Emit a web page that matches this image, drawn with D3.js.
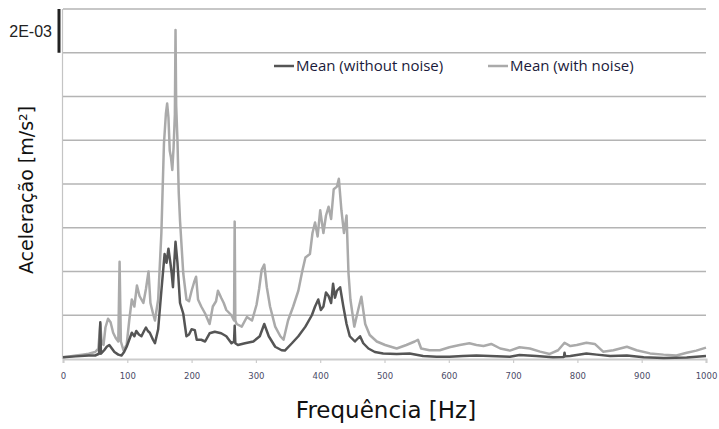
<!DOCTYPE html>
<html>
<head>
<meta charset="utf-8">
<script src="https://cdn.jsdelivr.net/npm/d3@7"></script>
<style>
  body { margin: 0; background: #fff; }
  svg { display: block; }
</style>
</head>
<body>
<script>
// values in 1E-03 m/s2
var freqSemRuido = [0, 20, 40, 50, 56, 58, 59, 64, 68, 72, 76, 80, 86, 91, 95, 99, 103, 107, 111, 114, 118, 122, 126, 129, 132, 135, 140, 143, 148, 153, 158, 161, 164, 167, 169, 171, 173, 175, 178, 182, 187, 192, 196, 200, 205, 208, 215, 221, 228, 236, 246, 254, 262, 266, 267, 268, 272, 283, 296, 306, 313, 320, 330, 340, 345, 356, 366, 377, 387, 392, 397, 401, 405, 409, 413, 417, 420, 423, 426, 431, 436, 441, 446, 454, 462, 467, 475, 485, 498, 519, 539, 560, 581, 601, 622, 643, 664, 695, 710, 736, 762, 779, 780, 781, 789, 814, 830, 851, 877, 903, 934, 970, 1000];
var semRuido = [0.01, 0.015, 0.02, 0.02, 0.03, 0.21, 0.03, 0.05, 0.07, 0.08, 0.06, 0.04, 0.025, 0.02, 0.04, 0.07, 0.11, 0.15, 0.13, 0.16, 0.14, 0.13, 0.16, 0.18, 0.16, 0.15, 0.11, 0.09, 0.17, 0.39, 0.60, 0.55, 0.63, 0.55, 0.49, 0.41, 0.55, 0.67, 0.55, 0.32, 0.26, 0.13, 0.14, 0.17, 0.165, 0.11, 0.11, 0.10, 0.147, 0.156, 0.147, 0.13, 0.09, 0.10, 0.19, 0.09, 0.08, 0.09, 0.10, 0.13, 0.20, 0.13, 0.07, 0.05, 0.048, 0.09, 0.13, 0.185, 0.25, 0.30, 0.34, 0.28, 0.30, 0.38, 0.36, 0.32, 0.43, 0.35, 0.39, 0.41, 0.30, 0.20, 0.13, 0.10, 0.13, 0.09, 0.06, 0.04, 0.032, 0.029, 0.032, 0.017, 0.013, 0.013, 0.017, 0.02, 0.017, 0.013, 0.023, 0.017, 0.01, 0.012, 0.036, 0.015, 0.017, 0.032, 0.025, 0.017, 0.02, 0.01, 0.006, 0.008, 0.017];

var freqComRuido = [0, 10, 20, 30, 40, 50, 55, 58, 60, 63, 66, 70, 74, 78, 82, 86, 88, 90, 94, 99, 103, 107, 111, 115, 119, 125, 129, 133, 136, 140, 143, 148, 153, 157, 160, 162, 164, 166, 168, 170, 172, 174, 175, 176, 178, 180, 182, 187, 192, 196, 200, 204, 207, 210, 215, 221, 228, 233, 238, 241, 246, 250, 254, 262, 266, 267, 268, 270, 278, 286, 294, 301, 305, 309, 313, 317, 322, 330, 338, 343, 350, 358, 366, 372, 377, 384, 388, 392, 396, 400, 405, 409, 413, 417, 421, 426, 429, 433, 437, 441, 444, 447, 453, 459, 464, 470, 477, 488, 501, 519, 534, 547, 552, 557, 570, 586, 601, 617, 632, 643, 654, 666, 680, 695, 710, 726, 742, 757, 770, 780, 789, 799, 814, 827, 840, 856, 877, 892, 913, 934, 954, 970, 985, 1000];
var comRuido = [0.01, 0.015, 0.02, 0.025, 0.03, 0.04, 0.06, 0.20, 0.10, 0.08, 0.18, 0.23, 0.21, 0.15, 0.12, 0.10, 0.556, 0.10, 0.05, 0.08, 0.22, 0.34, 0.30, 0.42, 0.36, 0.32, 0.40, 0.50, 0.32, 0.26, 0.22, 0.34, 0.72, 1.23, 1.40, 1.46, 1.38, 1.19, 1.15, 1.08, 1.21, 1.40, 1.88, 1.45, 1.25, 0.95, 0.79, 0.49, 0.34, 0.33, 0.39, 0.44, 0.47, 0.34, 0.30, 0.26, 0.20, 0.30, 0.33, 0.39, 0.35, 0.32, 0.28, 0.25, 0.22, 0.785, 0.22, 0.20, 0.185, 0.24, 0.22, 0.31, 0.40, 0.51, 0.54, 0.41, 0.30, 0.185, 0.13, 0.11, 0.22, 0.30, 0.39, 0.50, 0.58, 0.60, 0.72, 0.78, 0.70, 0.85, 0.72, 0.82, 0.87, 0.80, 0.97, 0.985, 1.03, 0.85, 0.72, 0.82, 0.49, 0.34, 0.185, 0.28, 0.356, 0.20, 0.137, 0.10, 0.08, 0.06, 0.08, 0.10, 0.11, 0.06, 0.05, 0.05, 0.067, 0.08, 0.09, 0.08, 0.074, 0.086, 0.06, 0.048, 0.067, 0.06, 0.042, 0.029, 0.05, 0.093, 0.074, 0.08, 0.093, 0.086, 0.042, 0.05, 0.07, 0.05, 0.032, 0.025, 0.02, 0.036, 0.048, 0.065];

var xTicks = [0, 100, 200, 300, 400, 500, 600, 700, 800, 900, 1000];
var gridValues = [0.25, 0.5, 0.75, 1, 1.25, 1.5, 1.75, 2];
var yTopLabel = "2E-03";
var seriesNames = ["Mean (without noise)", "Mean (with noise)"];
var seriesColors = ["#555555", "#aaaaaa"];

var width = 719,
    height = 429;

var svg = d3.select("body")
    .append("svg")
    .attr("width", width)
    .attr("height", height);

var x = d3.scaleLinear().domain([0, 1000]).range([63, 706]);
var y = d3.scaleLinear().domain([0, 2]).range([359, 9]);

// horizontal gridlines
svg.append("g")
    .selectAll("line")
    .data(gridValues)
    .enter()
    .append("line")
    .attr("x1", x(0))
    .attr("x2", x(1000))
    .attr("y1", function(d) { return y(d); })
    .attr("y2", function(d) { return y(d); })
    .attr("stroke", "#b4b4b4")
    .attr("stroke-width", 1.5);

// left axis line
svg.append("line")
    .attr("x1", x(0) - 0.5).attr("x2", x(0) - 0.5)
    .attr("y1", y(2)).attr("y2", y(0))
    .attr("stroke", "#c4c4c4")
    .attr("stroke-width", 1.2);

// the top label with its dark marker
svg.append("rect")
    .attr("x", 57.5)
    .attr("y", y(2))
    .attr("width", 3)
    .attr("height", y(1.75) - y(2))
    .attr("fill", "#222");

svg.append("text")
    .attr("x", 52)
    .attr("y", (y(2) + y(1.75)) / 2)
    .attr("dy", "0.36em")
    .attr("text-anchor", "end")
    .style("font-family", "Liberation Sans, Arial, sans-serif")
    .style("font-size", "16px")
    .style("fill", "#222")
    .text(yTopLabel);

// x axis
var xAxis = d3.axisBottom(x)
    .tickValues(xTicks)
    .tickSize(4)
    .tickPadding(10)
    .tickFormat(d3.format("d"));

var gx = svg.append("g")
    .attr("transform", "translate(0," + y(0) + ")")
    .call(xAxis);

gx.select(".domain")
    .attr("stroke", "#cccccc")
    .attr("stroke-width", 2);
gx.selectAll(".tick line")
    .attr("stroke", "#cccccc")
    .attr("stroke-width", 1.2);
gx.selectAll(".tick text")
    .style("font-family", "DejaVu Sans, sans-serif")
    .style("font-size", "8.5px")
    .style("fill", "#4a4a66");

// series
var line = d3.line()
    .x(function(d) { return x(d[0]); })
    .y(function(d) { return y(d[1]); });

var comData = d3.zip(freqComRuido, comRuido),
    semData = d3.zip(freqSemRuido, semRuido);

svg.append("path")
    .datum(comData)
    .attr("d", line)
    .attr("fill", "none")
    .attr("stroke", seriesColors[1])
    .attr("stroke-width", 2.5)
    .attr("stroke-linejoin", "round");

svg.append("path")
    .datum(semData)
    .attr("d", line)
    .attr("fill", "none")
    .attr("stroke", seriesColors[0])
    .attr("stroke-width", 2.5)
    .attr("stroke-linejoin", "round");

// legend
var legendX = [274, 488];
var legend = svg.append("g")
    .selectAll("g")
    .data(seriesNames)
    .enter()
    .append("g")
    .attr("transform", function(d, i) { return "translate(" + legendX[i] + ",66)"; });

legend.append("line")
    .attr("x1", 0).attr("x2", 20)
    .attr("y1", 0).attr("y2", 0)
    .attr("stroke", function(d, i) { return seriesColors[i]; })
    .attr("stroke-width", 2.5);

legend.append("text")
    .attr("x", 22)
    .attr("y", 5)
    .style("font-family", "Open Sans, sans-serif")
    .style("font-size", "15px")
    .style("fill", "#1a1a3a")
    .text(function(d) { return d; });

// axis titles
svg.append("text")
    .attr("transform", "translate(33,190) rotate(-90)")
    .attr("text-anchor", "middle")
    .style("font-family", "DejaVu Sans, sans-serif")
    .style("font-size", "19px")
    .style("fill", "#111")
    .text("Aceleração [m/s²]");

svg.append("text")
    .attr("x", 386)
    .attr("y", 418)
    .attr("text-anchor", "middle")
    .style("font-family", "DejaVu Sans, sans-serif")
    .style("font-size", "23px")
    .style("fill", "#111")
    .text("Frequência [Hz]");
</script>
</body>
</html>
